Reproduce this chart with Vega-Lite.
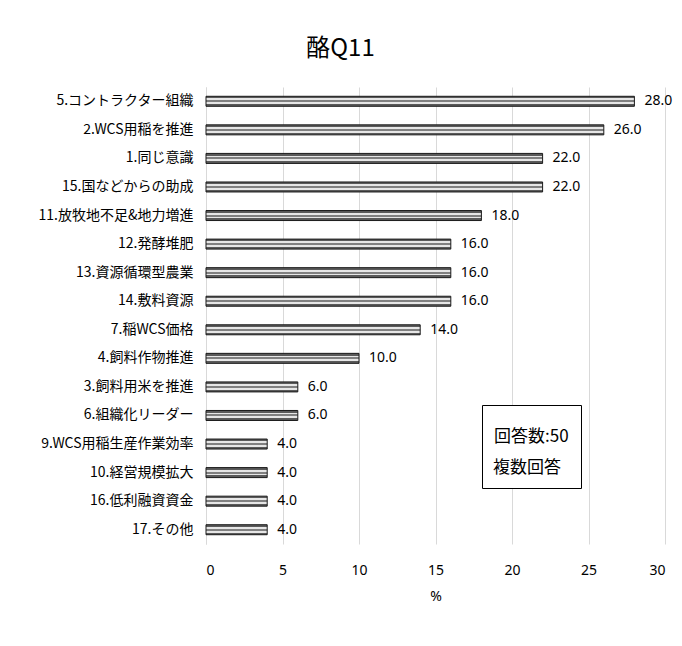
{
  "$schema": "https://vega.github.io/schema/vega-lite/v6.json",
  "autosize": {"type": "none"},
  "width": 459,
  "height": 457,
  "padding": {"left": 206, "top": 87, "right": 17, "bottom": 102},
  "background": "white",
  "title": {
    "text": "酪Q11",
    "anchor": "middle",
    "frame": "group",
    "dx": -95,
    "offset": 26,
    "fontSize": 24,
    "fontWeight": "normal",
    "font": "Noto Sans CJK JP, sans-serif",
    "color": "black"
  },
  "data": {
    "values": [
      {"item": "5.コントラクター組織", "pct": 28.0},
      {"item": "2.WCS用稲を推進", "pct": 26.0},
      {"item": "1.同じ意識", "pct": 22.0},
      {"item": "15.国などからの助成", "pct": 22.0},
      {"item": "11.放牧地不足&地力増進", "pct": 18.0},
      {"item": "12.発酵堆肥", "pct": 16.0},
      {"item": "13.資源循環型農業", "pct": 16.0},
      {"item": "14.敷料資源", "pct": 16.0},
      {"item": "7.稲WCS価格", "pct": 14.0},
      {"item": "4.飼料作物推進", "pct": 10.0},
      {"item": "3.飼料用米を推進", "pct": 6.0},
      {"item": "6.組織化リーダー", "pct": 6.0},
      {"item": "9.WCS用稲生産作業効率", "pct": 4.0},
      {"item": "10.経営規模拡大", "pct": 4.0},
      {"item": "16.低利融資資金", "pct": 4.0},
      {"item": "17.その他", "pct": 4.0}
    ]
  },
  "encoding": {
    "y": {
      "field": "item",
      "type": "nominal",
      "sort": null,
      "axis": {
        "title": null,
        "ticks": false,
        "domain": true,
        "domainColor": "#d9d9d9",
        "labelPadding": 13,
        "labelFontSize": 14,
        "labelFont": "Noto Sans CJK JP, sans-serif",
        "labelColor": "black",
        "labelLimit": 300
      }
    },
    "x": {
      "field": "pct",
      "type": "quantitative",
      "scale": {"domain": [0, 30]},
      "axis": {
        "title": "%",
        "values": [0, 5, 10, 15, 20, 25, 30],
        "ticks": false,
        "domain": false,
        "grid": true,
        "gridColor": "#d9d9d9",
        "labelPadding": 19,
        "labelFontSize": 14,
        "labelFont": "Noto Sans, sans-serif",
        "labelColor": "black",
        "titleFontSize": 14,
        "titleFontWeight": "normal",
        "titleFont": "Noto Sans, sans-serif",
        "titleColor": "black",
        "titlePadding": 12
      }
    }
  },
  "layer": [
    {
      "mark": {
        "type": "bar",
        "height": 10,
        "stroke": "#1a1a1a",
        "strokeWidth": 1,
        "fill": {
          "gradient": "linear",
          "x1": 0, "y1": 0, "x2": 0, "y2": 1,
          "stops": [
            {"offset": 0, "color": "#5a5a5a"},
            {"offset": 0.22, "color": "#5a5a5a"},
            {"offset": 0.22, "color": "#e6e6e6"},
            {"offset": 0.4, "color": "#e6e6e6"},
            {"offset": 0.4, "color": "#808080"},
            {"offset": 0.6, "color": "#808080"},
            {"offset": 0.6, "color": "#e6e6e6"},
            {"offset": 0.78, "color": "#e6e6e6"},
            {"offset": 0.78, "color": "#5a5a5a"},
            {"offset": 1, "color": "#5a5a5a"}
          ]
        }
      }
    },
    {
      "mark": {
        "type": "text",
        "align": "left",
        "baseline": "middle",
        "dx": 10,
        "fontSize": 14,
        "font": "Noto Sans, sans-serif"
      },
      "encoding": {
        "text": {"field": "pct", "type": "quantitative", "format": ".1f"},
        "color": {
          "datum": "複数回答",
          "scale": {"range": ["black"]},
          "legend": {
            "title": ["", "回答数:50"],
            "orient": "none",
            "legendX": 276,
            "legendY": 318,
            "padding": 12,
            "strokeColor": "black",
            "fillColor": "white",
            "titleFontSize": 17,
            "titleLineHeight": 12,
            "titleFontWeight": "normal",
            "titleColor": "black",
            "titleFont": "Noto Sans CJK JP, sans-serif",
            "titlePadding": 13,
            "labelFontSize": 17,
            "labelColor": "black",
            "labelFont": "Noto Sans CJK JP, sans-serif",
            "labelOffset": -18,
            "symbolSize": 0,
            "symbolOpacity": 0,
            "symbolStrokeWidth": 0
          }
        }
      }
    }
  ],
  "config": {
    "view": {"stroke": null}
  }
}
